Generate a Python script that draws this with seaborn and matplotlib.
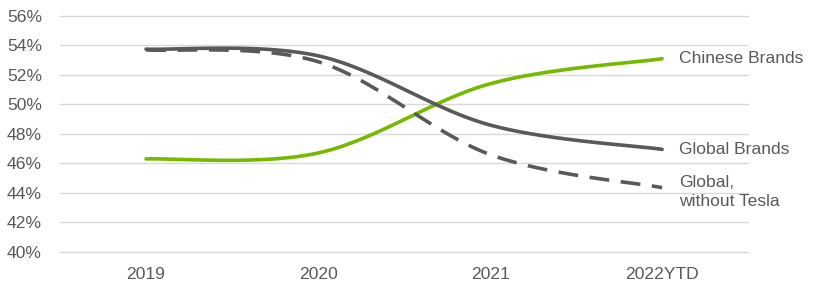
import numpy as np
import pandas as pd
import matplotlib
matplotlib.use("Agg")
import matplotlib.pyplot as plt
import seaborn as sns

categories = ["2019", "2020", "2021", "2022YTD"]
chinese_brands = [46.3, 46.7, 51.4, 53.1]
global_brands = [53.75, 53.3, 48.6, 46.95]
global_without_tesla = [53.7, 52.9, 46.6, 44.35]
series_names = ["Chinese Brands", "Global Brands", "Global,\nwithout Tesla"]
y_ticks = [40, 42, 44, 46, 48, 50, 52, 54, 56]


def smooth(values, steps=40):
    """Excel-style smoothed line (Catmull-Rom Bezier) through the points."""
    p = np.array(values, dtype=float)
    x = np.arange(len(p), dtype=float)
    pts = np.column_stack([x, p])
    ext = np.vstack([pts[0], pts, pts[-1]])
    out = []
    for i in range(len(pts) - 1):
        p0, p1, p2, p3 = ext[i], ext[i + 1], ext[i + 2], ext[i + 3]
        c1 = p1 + (p2 - p0) / 6.0
        c2 = p2 - (p3 - p1) / 6.0
        t = np.linspace(0, 1, steps, endpoint=(i == len(pts) - 2))[:, None]
        seg = ((1 - t) ** 3) * p1 + 3 * ((1 - t) ** 2) * t * c1 + 3 * (1 - t) * t ** 2 * c2 + t ** 3 * p2
        out.append(seg)
    return np.vstack(out)


sns.set_theme(style="white")
plt.rcParams["font.family"] = ["Liberation Sans", "DejaVu Sans"]

fig = plt.figure(figsize=(8.27, 2.99), dpi=100)
ax = fig.add_axes([0.0726, 0.158, 0.832, 0.7885])

frames = []
for name, vals in zip(series_names, [chinese_brands, global_brands, global_without_tesla]):
    c = smooth(vals)
    frames.append(pd.DataFrame({"x": c[:, 0], "y": c[:, 1], "series": name}))
df = pd.concat(frames, ignore_index=True)

palette = {series_names[0]: "#76B900", series_names[1]: "#595959", series_names[2]: "#595959"}
dashes = {series_names[0]: "", series_names[1]: "", series_names[2]: (5.5, 3.2)}
sns.lineplot(data=df, x="x", y="y", hue="series", style="series", palette=palette,
             dashes=dashes, linewidth=2.6, sort=False, estimator=None, ax=ax, legend=False)

ax.set_xlim(-0.5, 3.5)
ax.set_ylim(40, 56)
ax.set_yticks(y_ticks)
ax.set_yticklabels([f"{v}%" for v in y_ticks])
ax.set_xticks(range(len(categories)))
ax.set_xticklabels(categories)
ax.grid(axis="y", color="#D9D9D9", linewidth=1.0)
ax.grid(axis="x", visible=False)
for gl in ax.get_ygridlines():
    gl.set_clip_on(False)
ax.set_axisbelow(True)
for s in ax.spines.values():
    s.set_visible(False)
ax.tick_params(axis="both", length=0, labelsize=12.6, colors="#595959")
ax.tick_params(axis="y", pad=13)
ax.tick_params(axis="x", pad=11)
ax.set_xlabel("")
ax.set_ylabel("")

label_y = [chinese_brands[-1], global_brands[-1], global_without_tesla[-1] - 0.3]
for name, yv in zip(series_names, label_y):
    ax.annotate(name, xy=(3, yv), xytext=(12, 0), textcoords="offset points",
                va="center", ha="left", fontsize=12.6, color="#595959",
                annotation_clip=False, linespacing=1.4)

fig.savefig("out.png", dpi=100)
